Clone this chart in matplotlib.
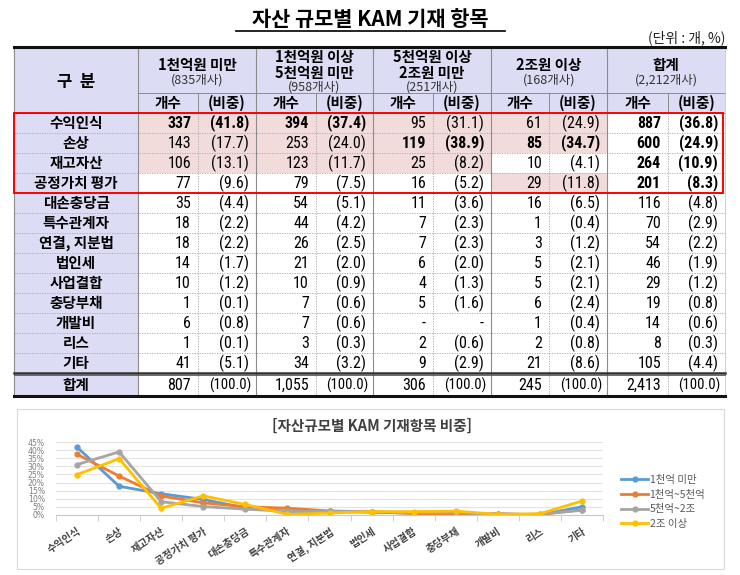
import matplotlib
matplotlib.use("Agg")
import matplotlib.pyplot as plt
from matplotlib.patches import Rectangle

plt.rcParams['font.family'] = ['Noto Sans CJK KR', 'DejaVu Sans']

# ---------------- data ----------------
categories = ['수익인식', '손상', '재고자산', '공정가치 평가', '대손충당금', '특수관계자',
              '연결, 지분법', '법인세', '사업결합', '충당부채', '개발비', '리스', '기타']

count_lt1000 = [337, 143, 106, 77, 35, 18, 18, 14, 10, 1, 6, 1, 41]
share_lt1000 = [41.8, 17.7, 13.1, 9.6, 4.4, 2.2, 2.2, 1.7, 1.2, 0.1, 0.8, 0.1, 5.1]
count_1000_5000 = [394, 253, 123, 79, 54, 44, 26, 21, 10, 7, 7, 3, 34]
share_1000_5000 = [37.4, 24.0, 11.7, 7.5, 5.1, 4.2, 2.5, 2.0, 0.9, 0.6, 0.6, 0.3, 3.2]
count_5000_2jo = [95, 119, 25, 16, 11, 7, 7, 6, 4, 5, None, 2, 9]
share_5000_2jo = [31.1, 38.9, 8.2, 5.2, 3.6, 2.3, 2.3, 2.0, 1.3, 1.6, None, 0.6, 2.9]
count_gt2jo = [61, 85, 10, 29, 16, 1, 3, 5, 5, 6, 1, 2, 21]
share_gt2jo = [24.9, 34.7, 4.1, 11.8, 6.5, 0.4, 1.2, 2.1, 2.1, 2.4, 0.4, 0.8, 8.6]
count_total = [887, 600, 264, 201, 116, 70, 54, 46, 29, 19, 14, 8, 105]
share_total = [36.8, 24.9, 10.9, 8.3, 4.8, 2.9, 2.2, 1.9, 1.2, 0.8, 0.6, 0.3, 4.4]

sum_counts = [807, 1055, 306, 245, 2413]
sum_shares = [100.0, 100.0, 100.0, 100.0, 100.0]

group_titles = [['1천억원 미만'], ['1천억원 이상', '5천억원 미만'], ['5천억원 이상', '2조원 미만'],
                ['2조원 이상'], ['합계']]
group_firms = ['(835개사)', '(958개사)', '(251개사)', '(168개사)', '(2,212개사)']

legend_labels = ['1천억 미만', '1천억~5천억', '5천억~2조', '2조 이상']
yticks_pct = [0, 5, 10, 15, 20, 25, 30, 35, 40, 45]

# styling (which cells are highlighted / bold): (row, group)
pink_cells = [(0, 0), (0, 1), (0, 2), (0, 3), (1, 0), (1, 1), (1, 2), (1, 3),
              (2, 0), (2, 1), (2, 2), (3, 3)]
bold_cells = [(0, 0), (0, 1), (0, 4), (1, 2), (1, 3), (1, 4), (2, 4), (3, 4)]

counts = [count_lt1000, count_1000_5000, count_5000_2jo, count_gt2jo, count_total]
shares = [share_lt1000, share_1000_5000, share_5000_2jo, share_gt2jo, share_total]

# ---------------- figure ----------------
W, H = 740, 575
fig = plt.figure(figsize=(W / 100, H / 100), dpi=100)
fig.patch.set_facecolor('white')
ax = fig.add_axes([0, 0, 1, 1])
ax.set_xlim(0, W)
ax.set_ylim(H, 0)
ax.axis('off')

LAV = '#dcdcf4'
PINK = '#f2dcdb'
NUMF = ['Liberation Sans Narrow', 'Roboto Condensed', 'Liberation Sans', 'DejaVu Sans']

x_left, x_first = 14, 138
g_edges = [138, 256, 373, 491, 607, 725]
g_split = [198, 316, 433, 549, 668]
y_top, y_hdr, y_sub = 47, 93, 113
row_h = 20
n = len(categories)
y_sum_top = y_sub + n * row_h
y_bottom = 396
pad = 7

# title
ax.text(370, 19, '자산 규모별 KAM 기재 항목', ha='center', va='center',
        fontsize=15, fontweight='bold', color='black')
ax.plot([236, 505], [31, 31], color='black', lw=1.2)
ax.text(725, 38, '(단위 : 개, %)', ha='right', va='center', fontsize=10, color='#222222')

# header backgrounds
ax.add_patch(Rectangle((x_left, y_top), g_edges[-1] - x_left, y_sub - y_top, facecolor=LAV, edgecolor='none'))
ax.add_patch(Rectangle((x_left, y_sub), x_first - x_left, y_bottom - y_sub, facecolor=LAV, edgecolor='none'))

# pink cells
for (r, g) in pink_cells:
    ax.add_patch(Rectangle((g_edges[g], y_sub + r * row_h), g_edges[g + 1] - g_edges[g], row_h,
                           facecolor=PINK, edgecolor='none'))

# header text
ax.text(76, 82, '구  분', ha='center', va='center', fontsize=12, fontweight='bold')
for g in range(5):
    cx = (g_edges[g] + g_edges[g + 1]) / 2
    if len(group_titles[g]) == 2:
        ax.text(cx, 65, '\n'.join(group_titles[g]), ha='center', va='center', fontsize=10.5,
                fontweight='bold', linespacing=0.98)
        ax.text(cx, 87, group_firms[g], ha='center', va='center', fontsize=9, color='#333333')
    else:
        ax.text(cx, 65, group_titles[g][0], ha='center', va='center', fontsize=10.5, fontweight='bold')
        ax.text(cx, 80, group_firms[g], ha='center', va='center', fontsize=9, color='#333333')
    ax.text((g_edges[g] + g_split[g]) / 2, 103, '개수', ha='center', va='center', fontsize=10.5, fontweight='bold')
    ax.text((g_split[g] + g_edges[g + 1]) / 2, 103, '(비중)', ha='center', va='center', fontsize=10.5, fontweight='bold')

# data rows
for r in range(n):
    cy = y_sub + r * row_h + row_h / 2
    ax.text(76, cy, categories[r], ha='center', va='center', fontsize=10.5, fontweight='bold')
    for g in range(5):
        c = counts[g][r]
        s = shares[g][r]
        fw = 'bold' if (r, g) in bold_cells else 'normal'
        ctxt = '-' if c is None else f'{c:,}'
        stxt = '-' if s is None else f'({s:.1f})'
        ax.text(g_split[g] - pad, cy, ctxt, ha='right', va='center', fontsize=11.5,
                family=NUMF, fontweight=fw)
        ax.text(g_edges[g + 1] - pad, cy, stxt, ha='right', va='center', fontsize=11.5,
                family=NUMF, fontweight=fw)

# sum row
cy = (y_sum_top + y_bottom) / 2 + 0.5
ax.text(76, cy, '합계', ha='center', va='center', fontsize=10.5, fontweight='bold')
for g in range(5):
    ax.text(g_split[g] - pad, cy, f'{sum_counts[g]:,}', ha='right', va='center', fontsize=11.5, family=NUMF)
    ax.text(g_edges[g + 1] - 5, cy, f'({sum_shares[g]:.1f})', ha='right', va='center', fontsize=10.5,
            family=NUMF)

# grid lines
gray = '#8c8c8c'
ax.plot([x_first, g_edges[-1]], [y_hdr, y_hdr], color=gray, lw=0.7)
ax.plot([x_left, g_edges[-1]], [y_sub, y_sub], color=gray, lw=0.7)
for r in range(1, n):
    y = y_sub + r * row_h
    ax.plot([x_left, g_edges[-1]], [y, y], color='#a6a6a6', lw=0.6, ls=(0, (1.5, 1.5)))
for x in g_edges[:-1] + [x_left]:
    ax.plot([x, x], [y_top, y_bottom], color=gray, lw=0.8)
ax.plot([g_edges[-1], g_edges[-1]], [y_top, y_bottom], color='#c8c8c8', lw=0.6)
for x in g_split:
    ax.plot([x, x], [y_hdr, y_sub], color=gray, lw=0.7)
    ax.plot([x, x], [y_sub, y_bottom], color='#a6a6a6', lw=0.6, ls=(0, (1.5, 1.5)))
ax.plot([x_left, g_edges[-1]], [y_top, y_top], color='#111111', lw=2.2)
ax.plot([x_left, g_edges[-1]], [y_sum_top - 0.5, y_sum_top - 0.5], color='#333333', lw=1.8)
ax.plot([x_left, g_edges[-1]], [y_sum_top + 2, y_sum_top + 2], color='#555555', lw=0.6)
ax.plot([x_left, g_edges[-1]], [y_bottom, y_bottom], color='#111111', lw=2.2)

# red highlight box
ax.add_patch(Rectangle((x_left, y_sub), 723 - x_left, 4 * row_h, facecolor='none',
                       edgecolor='#ff0000', lw=1.4, zorder=5))

# ---------------- chart ----------------
ax.add_patch(Rectangle((17, 409), 724 - 17, 569 - 409, facecolor='white', edgecolor='#d9d9d9', lw=0.8))
ax.text(372, 426, '[자산규모별 KAM 기재항목 비중]', ha='center', va='center',
        fontsize=10.5, fontweight='bold', color='#404040')

pl, pr, pt, pb = 56, 603, 442, 515
cax = fig.add_axes([pl / W, 1 - pb / H, (pr - pl) / W, (pb - pt) / H])
cax.set_facecolor('none')
colors = ['#5b9bd5', '#ed7d31', '#a5a5a5', '#ffc000']
xs = list(range(n))
for g in range(4):
    vals = [0 if v is None else v / 100 for v in shares[g]]
    cax.plot(xs, vals, color=colors[g], lw=2, marker='o', ms=3.5, label=legend_labels[g],
             solid_joinstyle='round')
cax.set_xlim(-0.5, n - 0.5)
cax.set_ylim(0, 0.45)
cax.set_yticks([v / 100 for v in yticks_pct])
cax.set_yticklabels([f'{v}%' for v in yticks_pct], fontsize=5.6, color='#7f7f7f', family=['DejaVu Sans'])
cax.yaxis.grid(True, color='#e3e3e3', lw=0.8)
cax.set_axisbelow(True)
for s in ['top', 'right', 'left']:
    cax.spines[s].set_visible(False)
cax.spines['bottom'].set_color('#c8c8c8')
cax.tick_params(axis='y', length=0, pad=8)
cax.set_xticks(xs)
cax.set_xticklabels(categories, rotation=33, ha='right', rotation_mode='anchor',
                    fontsize=7.3, fontweight='bold', color='#404040')
cax.set_xticks([i - 0.5 for i in range(n + 1)], minor=True)
cax.tick_params(axis='x', which='major', length=0, pad=8)
cax.tick_params(axis='x', which='minor', length=4, color='#c8c8c8')

fig.legend(*cax.get_legend_handles_labels(), loc='center left',
           bbox_to_anchor=(612 / W, 1 - 502 / H), frameon=False, fontsize=7.5,
           handlelength=2.6, labelspacing=0.45, handletextpad=0.1, labelcolor='#595959')

fig.savefig('out.png', dpi=100, facecolor='white')
